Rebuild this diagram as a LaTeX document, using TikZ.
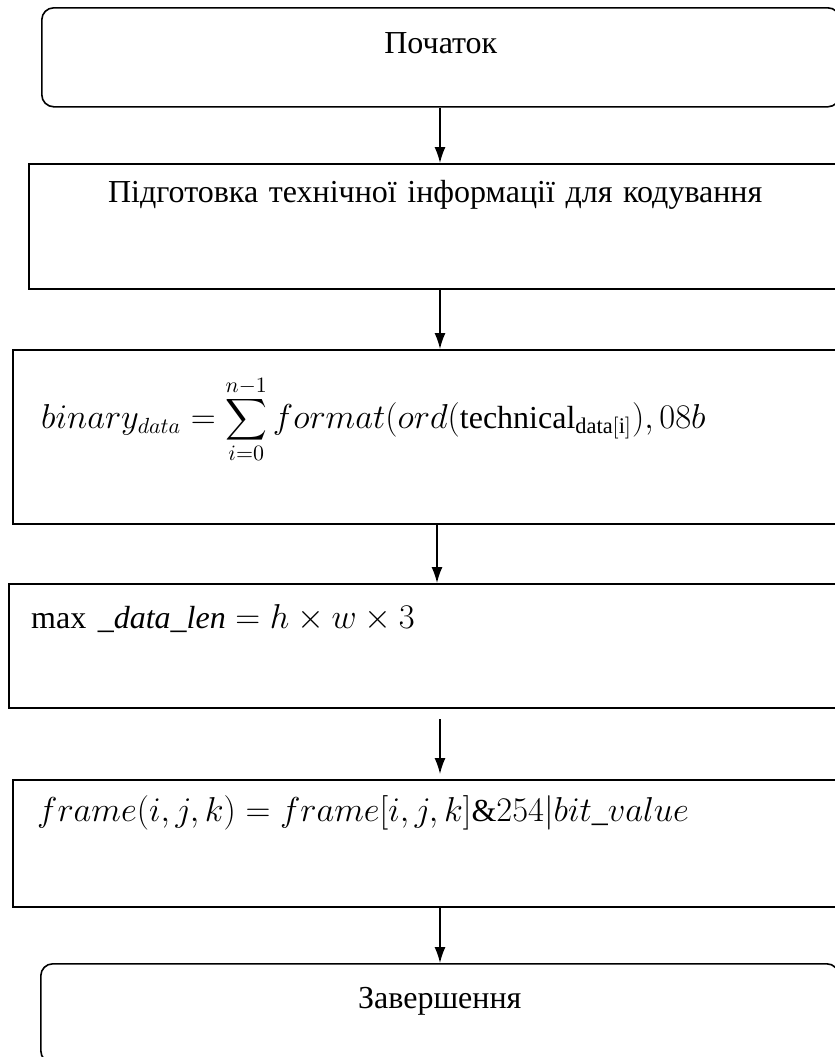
\documentclass[tikz,border=0pt]{standalone}
\usepackage{fontspec}
\setmainfont{Liberation Serif}
\usetikzlibrary{arrows.meta, calc}
\newcommand{\bigsum}{\mathop{\vcenter{\hbox{\scalebox{1.45}{$\displaystyle\sum$}}}}\limits}

\begin{document}
\begin{tikzpicture}[x=0.5pt, y=-0.5pt, font=\fontsize{16}{19}\selectfont,
  terminal/.style={draw, line width=0.8pt, rounded corners=6pt, anchor=north west, inner sep=0pt, minimum width=399pt, align=center},
  process/.style={draw, line width=1.2pt, anchor=north west, inner ysep=0pt, inner xsep=13pt, text width=420pt, align=left},
  flow/.style={-{Latex[length=8pt, width=5.5pt]}, line width=0.7pt}]
\path[use as bounding box, clip] (0,0) rectangle (835,1057);
\coordinate (axis) at (440,0);

\node[terminal, text height=23pt, text depth=26.5pt] (start) at (41,7) {Початок};
\node[process, inner xsep=0pt, text width=406pt, align=center, text height=19pt, text depth=43.5pt] (prep) at (28,163) {Підготовка технічної інформації для кодування};
\node[process, inner xsep=14pt, text height=39pt, text depth=48pt] (sum) at (12,349)
  {$\displaystyle binary_{data} = \bigsum_{i=0}^{n-1} format(ord\Bigl(\mathrm{technical}_{\mathrm{data[i]}}\Bigr), 08b$};
\node[process, inner xsep=11pt, text height=22pt, text depth=40pt] (len) at (8,583)
  {$\max\,\_\mathit{data\_len} = h \times w \times 3$};
\node[process, inner xsep=12pt, text height=20.5pt, text depth=43pt] (frame) at (12,779)
  {$frame(i,j,k) = frame[i,j,k]\&254|bit\_value$};
\node[terminal, text height=22.5pt, text depth=27pt] (stop) at (40,963) {Завершення};

\draw[flow] (start.south -| axis) -- (prep.north -| axis);
\draw[flow] (prep.south -| axis) -- (sum.north -| axis);
\draw[flow] ($(sum.south -| axis)+(-3,0)$) -- ($(len.north -| axis)+(-3,0)$);
\draw[flow, shorten <=5pt, shorten >=2.5pt] (len.south -| axis) -- (frame.north -| axis);
\draw[flow] (frame.south -| axis) -- (stop.north -| axis);
\end{tikzpicture}
\end{document}
